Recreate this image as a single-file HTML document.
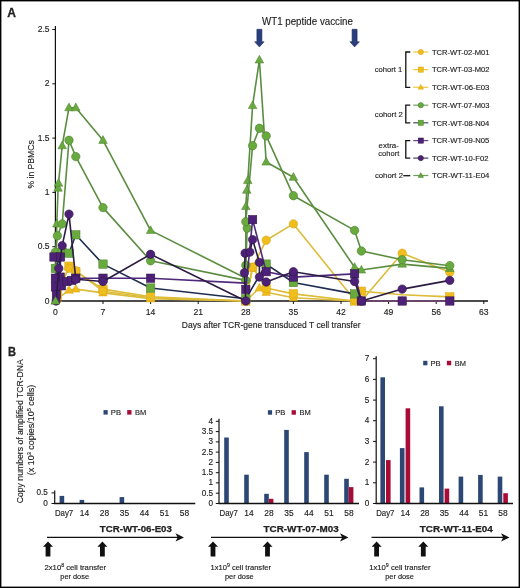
<!DOCTYPE html>
<html><head><meta charset="utf-8"><style>
html,body{margin:0;padding:0;background:#fff;}
body{width:520px;height:588px;overflow:hidden;}
svg{display:block;will-change:transform;}
text{font-family:"Liberation Sans",sans-serif;fill:#222222;stroke:#222222;stroke-width:0.14px;}
</style></head><body>
<svg width="520" height="588" viewBox="0 0 520 588">
<rect x="0" y="0" width="520" height="588" fill="#fff"/>
<text x="7.3" y="17" textLength="8.7" lengthAdjust="spacingAndGlyphs" style="font-size:12.3px;font-weight:bold;stroke-width:0.3px" >A</text>
<text x="262.0" y="25.0" textLength="90.9" lengthAdjust="spacingAndGlyphs" style="font-size:10.8px" >WT1 peptide vaccine</text>
<path d="M256.9,29.3 H261.9 V41.8 H264.1 L259.4,46.9 L254.6,41.8 H256.9 Z" fill="#2b3f7e" stroke="#1f2c5a" stroke-width="0.6"/>
<path d="M352.1,29.3 H357.1 V41.8 H359.4 L354.6,46.9 L349.9,41.8 H352.1 Z" fill="#2b3f7e" stroke="#1f2c5a" stroke-width="0.6"/>
<text x="0" y="0" transform="translate(33.8,164.4) rotate(-90)" text-anchor="middle" textLength="48.2" lengthAdjust="spacingAndGlyphs" style="font-size:9.5px" >% in PBMCs</text>
<text x="181.8" y="327.6" textLength="178.7" lengthAdjust="spacingAndGlyphs" style="font-size:9.4px" >Days after TCR-gene transduced T cell transfer</text>
<line x1="55.4" y1="26" x2="55.4" y2="301.5" stroke="#111" stroke-width="1.2"/>
<line x1="55" y1="301" x2="488" y2="301" stroke="#111" stroke-width="1.3"/>
<line x1="52.3" y1="301.0" x2="55.4" y2="301.0" stroke="#111" stroke-width="1"/>
<text x="49.6" y="303.5" text-anchor="end" style="font-size:8.5px" >0</text>
<line x1="52.3" y1="246.7" x2="55.4" y2="246.7" stroke="#111" stroke-width="1"/>
<text x="49.6" y="249.2" text-anchor="end" style="font-size:8.5px" >0.5</text>
<line x1="52.3" y1="192.4" x2="55.4" y2="192.4" stroke="#111" stroke-width="1"/>
<text x="49.6" y="194.9" text-anchor="end" style="font-size:8.5px" >1</text>
<line x1="52.3" y1="138.1" x2="55.4" y2="138.1" stroke="#111" stroke-width="1"/>
<text x="49.6" y="140.6" text-anchor="end" style="font-size:8.5px" >1.5</text>
<line x1="52.3" y1="83.8" x2="55.4" y2="83.8" stroke="#111" stroke-width="1"/>
<text x="49.6" y="86.3" text-anchor="end" style="font-size:8.5px" >2</text>
<line x1="52.3" y1="29.5" x2="55.4" y2="29.5" stroke="#111" stroke-width="1"/>
<text x="49.6" y="32.0" text-anchor="end" style="font-size:8.5px" >2.5</text>
<line x1="55.4" y1="301" x2="55.4" y2="304" stroke="#111" stroke-width="1"/>
<text x="55.4" y="314.6" text-anchor="middle" style="font-size:8.6px" >0</text>
<line x1="103.0" y1="301" x2="103.0" y2="304" stroke="#111" stroke-width="1"/>
<text x="103.0" y="314.6" text-anchor="middle" style="font-size:8.6px" >7</text>
<line x1="150.6" y1="301" x2="150.6" y2="304" stroke="#111" stroke-width="1"/>
<text x="150.6" y="314.6" text-anchor="middle" style="font-size:8.6px" >14</text>
<line x1="198.2" y1="301" x2="198.2" y2="304" stroke="#111" stroke-width="1"/>
<text x="198.2" y="314.6" text-anchor="middle" style="font-size:8.6px" >21</text>
<line x1="245.8" y1="301" x2="245.8" y2="304" stroke="#111" stroke-width="1"/>
<text x="245.8" y="314.6" text-anchor="middle" style="font-size:8.6px" >28</text>
<line x1="293.4" y1="301" x2="293.4" y2="304" stroke="#111" stroke-width="1"/>
<text x="293.4" y="314.6" text-anchor="middle" style="font-size:8.6px" >35</text>
<line x1="341.0" y1="301" x2="341.0" y2="304" stroke="#111" stroke-width="1"/>
<text x="341.0" y="314.6" text-anchor="middle" style="font-size:8.6px" >42</text>
<line x1="388.6" y1="301" x2="388.6" y2="304" stroke="#111" stroke-width="1"/>
<text x="388.6" y="314.6" text-anchor="middle" style="font-size:8.6px" >49</text>
<line x1="436.2" y1="301" x2="436.2" y2="304" stroke="#111" stroke-width="1"/>
<text x="436.2" y="314.6" text-anchor="middle" style="font-size:8.6px" >56</text>
<line x1="483.8" y1="301" x2="483.8" y2="304" stroke="#111" stroke-width="1"/>
<text x="483.8" y="314.6" text-anchor="middle" style="font-size:8.6px" >63</text>
<polyline points="57.4,298.8 69.0,290.1 75.8,289.1 103.0,292.9 150.6,298.8 245.8,301.0 259.4,288.0 266.2,292.3 293.4,297.7 354.6,301.0 361.4,301.0 402.2,301.0 449.8,301.0" fill="none" stroke="#dcbc38" stroke-width="1.6" stroke-linejoin="round"/>
<path d="M57.4,294.2 L61.7,301.9 L53.1,301.9 Z" fill="#efbd1c" stroke="#d9a514" stroke-width="0.5"/>
<path d="M69.0,285.5 L73.3,293.2 L64.7,293.2 Z" fill="#efbd1c" stroke="#d9a514" stroke-width="0.5"/>
<path d="M75.8,284.4 L80.1,292.1 L71.5,292.1 Z" fill="#efbd1c" stroke="#d9a514" stroke-width="0.5"/>
<path d="M103.0,288.2 L107.3,296.0 L98.7,296.0 Z" fill="#efbd1c" stroke="#d9a514" stroke-width="0.5"/>
<path d="M150.6,294.2 L154.9,301.9 L146.3,301.9 Z" fill="#efbd1c" stroke="#d9a514" stroke-width="0.5"/>
<path d="M245.8,296.4 L250.1,304.1 L241.5,304.1 Z" fill="#efbd1c" stroke="#d9a514" stroke-width="0.5"/>
<path d="M259.4,283.3 L263.7,291.1 L255.1,291.1 Z" fill="#efbd1c" stroke="#d9a514" stroke-width="0.5"/>
<path d="M266.2,287.7 L270.5,295.4 L261.9,295.4 Z" fill="#efbd1c" stroke="#d9a514" stroke-width="0.5"/>
<path d="M293.4,293.1 L297.7,300.8 L289.1,300.8 Z" fill="#efbd1c" stroke="#d9a514" stroke-width="0.5"/>
<path d="M354.6,296.4 L358.9,304.1 L350.3,304.1 Z" fill="#efbd1c" stroke="#d9a514" stroke-width="0.5"/>
<path d="M361.4,296.4 L365.7,304.1 L357.1,304.1 Z" fill="#efbd1c" stroke="#d9a514" stroke-width="0.5"/>
<path d="M402.2,296.4 L406.5,304.1 L397.9,304.1 Z" fill="#efbd1c" stroke="#d9a514" stroke-width="0.5"/>
<path d="M449.8,296.4 L454.1,304.1 L445.5,304.1 Z" fill="#efbd1c" stroke="#d9a514" stroke-width="0.5"/>
<polyline points="57.4,295.6 69.0,266.2 75.8,271.7 103.0,289.1 150.6,296.7 245.8,301.0 252.6,267.3 266.2,288.0 293.4,293.9 354.6,301.0 361.4,291.2 402.2,294.7 449.8,296.9" fill="none" stroke="#dcbc38" stroke-width="1.6" stroke-linejoin="round"/>
<rect x="53.2" y="291.4" width="8.4" height="8.4" fill="#efbd1c" stroke="#d9a514" stroke-width="0.5"/>
<rect x="64.8" y="262.0" width="8.4" height="8.4" fill="#efbd1c" stroke="#d9a514" stroke-width="0.5"/>
<rect x="71.6" y="267.5" width="8.4" height="8.4" fill="#efbd1c" stroke="#d9a514" stroke-width="0.5"/>
<rect x="98.8" y="284.9" width="8.4" height="8.4" fill="#efbd1c" stroke="#d9a514" stroke-width="0.5"/>
<rect x="146.4" y="292.5" width="8.4" height="8.4" fill="#efbd1c" stroke="#d9a514" stroke-width="0.5"/>
<rect x="241.6" y="296.8" width="8.4" height="8.4" fill="#efbd1c" stroke="#d9a514" stroke-width="0.5"/>
<rect x="248.4" y="263.1" width="8.4" height="8.4" fill="#efbd1c" stroke="#d9a514" stroke-width="0.5"/>
<rect x="262.0" y="283.8" width="8.4" height="8.4" fill="#efbd1c" stroke="#d9a514" stroke-width="0.5"/>
<rect x="289.2" y="289.7" width="8.4" height="8.4" fill="#efbd1c" stroke="#d9a514" stroke-width="0.5"/>
<rect x="350.4" y="296.8" width="8.4" height="8.4" fill="#efbd1c" stroke="#d9a514" stroke-width="0.5"/>
<rect x="357.2" y="287.0" width="8.4" height="8.4" fill="#efbd1c" stroke="#d9a514" stroke-width="0.5"/>
<rect x="445.6" y="292.7" width="8.4" height="8.4" fill="#efbd1c" stroke="#d9a514" stroke-width="0.5"/>
<polyline points="57.4,290.1 69.0,268.4 75.8,270.6 103.0,291.2 150.6,297.7 245.8,301.0 252.6,267.3 266.2,240.2 293.4,223.9 354.6,299.9 361.4,301.0 402.2,253.2 449.8,272.2" fill="none" stroke="#dcbc38" stroke-width="1.6" stroke-linejoin="round"/>
<circle cx="57.4" cy="290.1" r="4.20" fill="#efbd1c" stroke="#d9a514" stroke-width="0.6"/>
<circle cx="69.0" cy="268.4" r="4.20" fill="#efbd1c" stroke="#d9a514" stroke-width="0.6"/>
<circle cx="75.8" cy="270.6" r="4.20" fill="#efbd1c" stroke="#d9a514" stroke-width="0.6"/>
<circle cx="103.0" cy="291.2" r="4.20" fill="#efbd1c" stroke="#d9a514" stroke-width="0.6"/>
<circle cx="245.8" cy="301.0" r="4.20" fill="#efbd1c" stroke="#d9a514" stroke-width="0.6"/>
<circle cx="252.6" cy="267.3" r="4.20" fill="#efbd1c" stroke="#d9a514" stroke-width="0.6"/>
<circle cx="266.2" cy="240.2" r="4.20" fill="#efbd1c" stroke="#d9a514" stroke-width="0.6"/>
<circle cx="293.4" cy="223.9" r="4.20" fill="#efbd1c" stroke="#d9a514" stroke-width="0.6"/>
<circle cx="354.6" cy="299.9" r="4.20" fill="#efbd1c" stroke="#d9a514" stroke-width="0.6"/>
<circle cx="361.4" cy="301.0" r="4.20" fill="#efbd1c" stroke="#d9a514" stroke-width="0.6"/>
<circle cx="402.2" cy="253.2" r="4.20" fill="#efbd1c" stroke="#d9a514" stroke-width="0.6"/>
<circle cx="449.8" cy="272.2" r="4.20" fill="#efbd1c" stroke="#d9a514" stroke-width="0.6"/>
<polyline points="55.4,301.0 56.8,223.9 58.1,188.1 58.5,183.2 62.2,145.7 69.0,107.7 75.8,107.7 103.0,140.3 150.6,230.4 245.8,278.2 245.8,206.5 246.8,190.2 247.8,180.5 252.6,105.5 259.4,59.9 266.2,162.0 293.4,177.2 354.6,267.3 361.4,270.0 402.2,264.1 449.8,268.4" fill="none" stroke="#5b8d40" stroke-width="1.6" stroke-linejoin="round"/>
<path d="M55.4,296.4 L59.7,304.1 L51.1,304.1 Z" fill="#68aa3e" stroke="#4a7f2e" stroke-width="0.5"/>
<path d="M56.8,219.2 L61.1,227.0 L52.5,227.0 Z" fill="#68aa3e" stroke="#4a7f2e" stroke-width="0.5"/>
<path d="M58.1,183.4 L62.4,191.2 L53.8,191.2 Z" fill="#68aa3e" stroke="#4a7f2e" stroke-width="0.5"/>
<path d="M58.5,178.5 L62.8,186.3 L54.2,186.3 Z" fill="#68aa3e" stroke="#4a7f2e" stroke-width="0.5"/>
<path d="M62.2,141.1 L66.5,148.8 L57.9,148.8 Z" fill="#68aa3e" stroke="#4a7f2e" stroke-width="0.5"/>
<path d="M69.0,103.0 L73.3,110.8 L64.7,110.8 Z" fill="#68aa3e" stroke="#4a7f2e" stroke-width="0.5"/>
<path d="M75.8,103.0 L80.1,110.8 L71.5,110.8 Z" fill="#68aa3e" stroke="#4a7f2e" stroke-width="0.5"/>
<path d="M103.0,135.6 L107.3,143.4 L98.7,143.4 Z" fill="#68aa3e" stroke="#4a7f2e" stroke-width="0.5"/>
<path d="M150.6,225.8 L154.9,233.5 L146.3,233.5 Z" fill="#68aa3e" stroke="#4a7f2e" stroke-width="0.5"/>
<path d="M245.8,273.6 L250.1,281.3 L241.5,281.3 Z" fill="#68aa3e" stroke="#4a7f2e" stroke-width="0.5"/>
<path d="M245.8,201.9 L250.1,209.6 L241.5,209.6 Z" fill="#68aa3e" stroke="#4a7f2e" stroke-width="0.5"/>
<path d="M246.8,185.6 L251.1,193.3 L242.5,193.3 Z" fill="#68aa3e" stroke="#4a7f2e" stroke-width="0.5"/>
<path d="M247.8,175.8 L252.1,183.6 L243.5,183.6 Z" fill="#68aa3e" stroke="#4a7f2e" stroke-width="0.5"/>
<path d="M252.6,100.9 L256.9,108.6 L248.3,108.6 Z" fill="#68aa3e" stroke="#4a7f2e" stroke-width="0.5"/>
<path d="M259.4,55.3 L263.7,63.0 L255.1,63.0 Z" fill="#68aa3e" stroke="#4a7f2e" stroke-width="0.5"/>
<path d="M266.2,157.3 L270.5,165.1 L261.9,165.1 Z" fill="#68aa3e" stroke="#4a7f2e" stroke-width="0.5"/>
<path d="M293.4,172.6 L297.7,180.3 L289.1,180.3 Z" fill="#68aa3e" stroke="#4a7f2e" stroke-width="0.5"/>
<path d="M354.6,262.7 L358.9,270.4 L350.3,270.4 Z" fill="#68aa3e" stroke="#4a7f2e" stroke-width="0.5"/>
<path d="M361.4,265.4 L365.7,273.1 L357.1,273.1 Z" fill="#68aa3e" stroke="#4a7f2e" stroke-width="0.5"/>
<path d="M402.2,259.4 L406.5,267.2 L397.9,267.2 Z" fill="#68aa3e" stroke="#4a7f2e" stroke-width="0.5"/>
<path d="M449.8,263.8 L454.1,271.5 L445.5,271.5 Z" fill="#68aa3e" stroke="#4a7f2e" stroke-width="0.5"/>
<polyline points="55.4,252.1 57.4,235.8 62.2,223.9 69.0,140.3 75.8,156.6 103.0,207.6 150.6,260.8 245.8,280.4 245.8,265.2 247.2,228.2 245.8,221.7 252.6,145.7 259.4,128.3 266.2,135.9 293.4,195.7 354.6,230.4 361.4,251.0 402.2,259.7 449.8,265.7" fill="none" stroke="#5b8d40" stroke-width="1.6" stroke-linejoin="round"/>
<circle cx="55.4" cy="252.1" r="4.20" fill="#68aa3e" stroke="#4a7f2e" stroke-width="0.6"/>
<circle cx="57.4" cy="235.8" r="4.20" fill="#68aa3e" stroke="#4a7f2e" stroke-width="0.6"/>
<circle cx="62.2" cy="223.9" r="4.20" fill="#68aa3e" stroke="#4a7f2e" stroke-width="0.6"/>
<circle cx="69.0" cy="140.3" r="4.20" fill="#68aa3e" stroke="#4a7f2e" stroke-width="0.6"/>
<circle cx="75.8" cy="156.6" r="4.20" fill="#68aa3e" stroke="#4a7f2e" stroke-width="0.6"/>
<circle cx="103.0" cy="207.6" r="4.20" fill="#68aa3e" stroke="#4a7f2e" stroke-width="0.6"/>
<circle cx="150.6" cy="260.8" r="4.20" fill="#68aa3e" stroke="#4a7f2e" stroke-width="0.6"/>
<circle cx="245.8" cy="280.4" r="4.20" fill="#68aa3e" stroke="#4a7f2e" stroke-width="0.6"/>
<circle cx="245.8" cy="265.2" r="4.20" fill="#68aa3e" stroke="#4a7f2e" stroke-width="0.6"/>
<circle cx="247.2" cy="228.2" r="4.20" fill="#68aa3e" stroke="#4a7f2e" stroke-width="0.6"/>
<circle cx="245.8" cy="221.7" r="4.20" fill="#68aa3e" stroke="#4a7f2e" stroke-width="0.6"/>
<circle cx="252.6" cy="145.7" r="4.20" fill="#68aa3e" stroke="#4a7f2e" stroke-width="0.6"/>
<circle cx="259.4" cy="128.3" r="4.20" fill="#68aa3e" stroke="#4a7f2e" stroke-width="0.6"/>
<circle cx="266.2" cy="135.9" r="4.20" fill="#68aa3e" stroke="#4a7f2e" stroke-width="0.6"/>
<circle cx="293.4" cy="195.7" r="4.20" fill="#68aa3e" stroke="#4a7f2e" stroke-width="0.6"/>
<circle cx="354.6" cy="230.4" r="4.20" fill="#68aa3e" stroke="#4a7f2e" stroke-width="0.6"/>
<circle cx="361.4" cy="251.0" r="4.20" fill="#68aa3e" stroke="#4a7f2e" stroke-width="0.6"/>
<circle cx="402.2" cy="259.7" r="4.20" fill="#68aa3e" stroke="#4a7f2e" stroke-width="0.6"/>
<circle cx="449.8" cy="265.7" r="4.20" fill="#68aa3e" stroke="#4a7f2e" stroke-width="0.6"/>
<polyline points="55.4,268.4 62.2,252.1 69.0,253.2 75.8,234.8 103.0,264.1 150.6,288.0 245.8,298.8 266.2,264.1 293.4,282.5 354.6,293.9" fill="none" stroke="#1e2c50" stroke-width="1.6" stroke-linejoin="round"/>
<rect x="51.2" y="264.2" width="8.4" height="8.4" fill="#68aa3e" stroke="#4a7f2e" stroke-width="0.5"/>
<rect x="58.0" y="247.9" width="8.4" height="8.4" fill="#68aa3e" stroke="#4a7f2e" stroke-width="0.5"/>
<rect x="64.8" y="249.0" width="8.4" height="8.4" fill="#68aa3e" stroke="#4a7f2e" stroke-width="0.5"/>
<rect x="71.6" y="230.6" width="8.4" height="8.4" fill="#68aa3e" stroke="#4a7f2e" stroke-width="0.5"/>
<rect x="98.8" y="259.9" width="8.4" height="8.4" fill="#68aa3e" stroke="#4a7f2e" stroke-width="0.5"/>
<rect x="146.4" y="283.8" width="8.4" height="8.4" fill="#68aa3e" stroke="#4a7f2e" stroke-width="0.5"/>
<rect x="241.6" y="294.6" width="8.4" height="8.4" fill="#68aa3e" stroke="#4a7f2e" stroke-width="0.5"/>
<rect x="262.0" y="259.9" width="8.4" height="8.4" fill="#68aa3e" stroke="#4a7f2e" stroke-width="0.5"/>
<rect x="289.2" y="278.3" width="8.4" height="8.4" fill="#68aa3e" stroke="#4a7f2e" stroke-width="0.5"/>
<rect x="350.4" y="289.7" width="8.4" height="8.4" fill="#68aa3e" stroke="#4a7f2e" stroke-width="0.5"/>
<polyline points="54.0,257.0 60.5,257.0 60.2,277.1 55.4,278.2 55.4,286.9 56.4,294.5 61.5,285.8 67.0,281.5 71.7,280.4 75.8,278.2 103.0,278.2 150.6,278.2 245.8,283.1 245.8,289.4 252.6,219.6 266.2,271.7 293.4,277.1 354.6,273.9 361.4,301.0 402.2,301.0 449.8,301.0" fill="none" stroke="#50297a" stroke-width="1.6" stroke-linejoin="round"/>
<rect x="49.8" y="252.8" width="8.4" height="8.4" fill="#4e2178" stroke="#2e1546" stroke-width="0.5"/>
<rect x="56.3" y="252.8" width="8.4" height="8.4" fill="#4e2178" stroke="#2e1546" stroke-width="0.5"/>
<rect x="56.0" y="272.9" width="8.4" height="8.4" fill="#4e2178" stroke="#2e1546" stroke-width="0.5"/>
<rect x="51.2" y="274.0" width="8.4" height="8.4" fill="#4e2178" stroke="#2e1546" stroke-width="0.5"/>
<rect x="51.2" y="282.7" width="8.4" height="8.4" fill="#4e2178" stroke="#2e1546" stroke-width="0.5"/>
<rect x="52.2" y="290.3" width="8.4" height="8.4" fill="#4e2178" stroke="#2e1546" stroke-width="0.5"/>
<rect x="57.3" y="281.6" width="8.4" height="8.4" fill="#4e2178" stroke="#2e1546" stroke-width="0.5"/>
<rect x="62.8" y="277.3" width="8.4" height="8.4" fill="#4e2178" stroke="#2e1546" stroke-width="0.5"/>
<rect x="67.5" y="276.2" width="8.4" height="8.4" fill="#4e2178" stroke="#2e1546" stroke-width="0.5"/>
<rect x="71.6" y="274.0" width="8.4" height="8.4" fill="#4e2178" stroke="#2e1546" stroke-width="0.5"/>
<rect x="98.8" y="274.0" width="8.4" height="8.4" fill="#4e2178" stroke="#2e1546" stroke-width="0.5"/>
<rect x="146.4" y="274.0" width="8.4" height="8.4" fill="#4e2178" stroke="#2e1546" stroke-width="0.5"/>
<rect x="241.6" y="285.2" width="8.4" height="8.4" fill="#4e2178" stroke="#2e1546" stroke-width="0.5"/>
<rect x="248.4" y="215.4" width="8.4" height="8.4" fill="#4e2178" stroke="#2e1546" stroke-width="0.5"/>
<rect x="262.0" y="267.5" width="8.4" height="8.4" fill="#4e2178" stroke="#2e1546" stroke-width="0.5"/>
<rect x="289.2" y="272.9" width="8.4" height="8.4" fill="#4e2178" stroke="#2e1546" stroke-width="0.5"/>
<rect x="350.4" y="269.7" width="8.4" height="8.4" fill="#4e2178" stroke="#2e1546" stroke-width="0.5"/>
<rect x="357.2" y="296.8" width="8.4" height="8.4" fill="#4e2178" stroke="#2e1546" stroke-width="0.5"/>
<rect x="398.0" y="296.8" width="8.4" height="8.4" fill="#4e2178" stroke="#2e1546" stroke-width="0.5"/>
<rect x="445.6" y="296.8" width="8.4" height="8.4" fill="#4e2178" stroke="#2e1546" stroke-width="0.5"/>
<polyline points="56.1,301.0 58.8,268.4 62.2,245.6 69.0,214.1 75.8,279.3 103.0,281.5 150.6,254.3 245.8,301.0 244.4,272.8 245.1,253.2 249.9,252.1 252.6,239.6 259.4,262.4 259.4,277.1 266.2,282.0 293.4,271.7 354.6,281.5 361.4,301.0 402.2,289.1 449.8,280.4" fill="none" stroke="#2b1b42" stroke-width="1.6" stroke-linejoin="round"/>
<circle cx="56.1" cy="301.0" r="4.20" fill="#4e2178" stroke="#2e1546" stroke-width="0.6"/>
<circle cx="58.8" cy="268.4" r="4.20" fill="#4e2178" stroke="#2e1546" stroke-width="0.6"/>
<circle cx="62.2" cy="245.6" r="4.20" fill="#4e2178" stroke="#2e1546" stroke-width="0.6"/>
<circle cx="69.0" cy="214.1" r="4.20" fill="#4e2178" stroke="#2e1546" stroke-width="0.6"/>
<circle cx="75.8" cy="279.3" r="4.20" fill="#4e2178" stroke="#2e1546" stroke-width="0.6"/>
<circle cx="103.0" cy="281.5" r="4.20" fill="#4e2178" stroke="#2e1546" stroke-width="0.6"/>
<circle cx="150.6" cy="254.3" r="4.20" fill="#4e2178" stroke="#2e1546" stroke-width="0.6"/>
<circle cx="245.8" cy="301.0" r="4.20" fill="#4e2178" stroke="#2e1546" stroke-width="0.6"/>
<circle cx="244.4" cy="272.8" r="4.20" fill="#4e2178" stroke="#2e1546" stroke-width="0.6"/>
<circle cx="245.1" cy="253.2" r="4.20" fill="#4e2178" stroke="#2e1546" stroke-width="0.6"/>
<circle cx="249.9" cy="252.1" r="4.20" fill="#4e2178" stroke="#2e1546" stroke-width="0.6"/>
<circle cx="252.6" cy="239.6" r="4.20" fill="#4e2178" stroke="#2e1546" stroke-width="0.6"/>
<circle cx="259.4" cy="262.4" r="4.20" fill="#4e2178" stroke="#2e1546" stroke-width="0.6"/>
<circle cx="259.4" cy="277.1" r="4.20" fill="#4e2178" stroke="#2e1546" stroke-width="0.6"/>
<circle cx="266.2" cy="282.0" r="4.20" fill="#4e2178" stroke="#2e1546" stroke-width="0.6"/>
<circle cx="293.4" cy="271.7" r="4.20" fill="#4e2178" stroke="#2e1546" stroke-width="0.6"/>
<circle cx="354.6" cy="281.5" r="4.20" fill="#4e2178" stroke="#2e1546" stroke-width="0.6"/>
<circle cx="361.4" cy="301.0" r="4.20" fill="#4e2178" stroke="#2e1546" stroke-width="0.6"/>
<circle cx="402.2" cy="289.1" r="4.20" fill="#4e2178" stroke="#2e1546" stroke-width="0.6"/>
<circle cx="449.8" cy="280.4" r="4.20" fill="#4e2178" stroke="#2e1546" stroke-width="0.6"/>
<path d="M55.4,296.4 L59.7,304.1 L51.1,304.1 Z" fill="#68aa3e" stroke="#4a7f2e" stroke-width="0.5"/>
<line x1="413.3" y1="52" x2="428.3" y2="52" stroke="#efbd1c" stroke-width="1.2" stroke-opacity="0.85"/>
<circle cx="420.8" cy="52.0" r="2.60" fill="#efbd1c" stroke="#d9a514" stroke-width="0.6"/>
<text x="431.9" y="54.9" textLength="57.5" lengthAdjust="spacingAndGlyphs" style="font-size:8.0px" >TCR-WT-02-M01</text>
<line x1="413.3" y1="69.6" x2="428.3" y2="69.6" stroke="#efbd1c" stroke-width="1.2" stroke-opacity="0.85"/>
<rect x="418.2" y="67.0" width="5.2" height="5.2" fill="#efbd1c" stroke="#d9a514" stroke-width="0.5"/>
<text x="431.9" y="72.4" textLength="57.5" lengthAdjust="spacingAndGlyphs" style="font-size:8.0px" >TCR-WT-03-M02</text>
<line x1="413.3" y1="87.3" x2="428.3" y2="87.3" stroke="#efbd1c" stroke-width="1.2" stroke-opacity="0.85"/>
<path d="M420.8,84.4 L423.5,89.2 L418.1,89.2 Z" fill="#efbd1c" stroke="#d9a514" stroke-width="0.5"/>
<text x="431.9" y="90.1" textLength="57.5" lengthAdjust="spacingAndGlyphs" style="font-size:8.0px" >TCR-WT-06-E03</text>
<line x1="413.3" y1="105.2" x2="428.3" y2="105.2" stroke="#5b8d40" stroke-width="1.2" stroke-opacity="0.85"/>
<circle cx="420.8" cy="105.2" r="2.60" fill="#68aa3e" stroke="#4a7f2e" stroke-width="0.6"/>
<text x="431.9" y="108.0" textLength="57.5" lengthAdjust="spacingAndGlyphs" style="font-size:8.0px" >TCR-WT-07-M03</text>
<line x1="413.3" y1="122.8" x2="428.3" y2="122.8" stroke="#1e2c50" stroke-width="1.2" stroke-opacity="0.85"/>
<rect x="418.2" y="120.2" width="5.2" height="5.2" fill="#68aa3e" stroke="#4a7f2e" stroke-width="0.5"/>
<text x="431.9" y="125.6" textLength="57.5" lengthAdjust="spacingAndGlyphs" style="font-size:8.0px" >TCR-WT-08-N04</text>
<line x1="413.3" y1="140.6" x2="428.3" y2="140.6" stroke="#4e2178" stroke-width="1.2" stroke-opacity="0.85"/>
<rect x="418.2" y="138.0" width="5.2" height="5.2" fill="#4e2178" stroke="#2e1546" stroke-width="0.5"/>
<text x="431.9" y="143.4" textLength="57.5" lengthAdjust="spacingAndGlyphs" style="font-size:8.0px" >TCR-WT-09-N05</text>
<line x1="413.3" y1="158.1" x2="428.3" y2="158.1" stroke="#2b1b42" stroke-width="1.2" stroke-opacity="0.85"/>
<circle cx="420.8" cy="158.1" r="2.60" fill="#4e2178" stroke="#2e1546" stroke-width="0.6"/>
<text x="431.9" y="160.9" textLength="56.6" lengthAdjust="spacingAndGlyphs" style="font-size:8.0px" >TCR-WT-10-F02</text>
<line x1="413.3" y1="175.5" x2="428.3" y2="175.5" stroke="#5b8d40" stroke-width="1.2" stroke-opacity="0.85"/>
<path d="M420.8,172.6 L423.5,177.4 L418.1,177.4 Z" fill="#68aa3e" stroke="#4a7f2e" stroke-width="0.5"/>
<text x="431.9" y="178.3" textLength="57.5" lengthAdjust="spacingAndGlyphs" style="font-size:8.0px" >TCR-WT-11-E04</text>
<path d="M410.3,52 H405.8 V87.3 H410.3" fill="none" stroke="#111" stroke-width="1.3"/>
<text x="374.8" y="72.3" textLength="27.5" lengthAdjust="spacingAndGlyphs" style="font-size:8.0px" >cohort 1</text>
<path d="M410.3,105.2 H405.8 V122.8 H410.3" fill="none" stroke="#111" stroke-width="1.3"/>
<text x="374.8" y="116.6" textLength="28.0" lengthAdjust="spacingAndGlyphs" style="font-size:8.0px" >cohort 2</text>
<path d="M410.3,140.6 H405.8 V158.1 H410.3" fill="none" stroke="#111" stroke-width="1.3"/>
<text x="378.6" y="147.8" textLength="20.2" lengthAdjust="spacingAndGlyphs" style="font-size:8.0px" >extra-</text>
<text x="378.3" y="156.3" textLength="21.0" lengthAdjust="spacingAndGlyphs" style="font-size:8.0px" >cohort</text>
<line x1="403.3" y1="175.7" x2="410.3" y2="175.7" stroke="#111" stroke-width="1.3"/>
<text x="374.9" y="177.8" textLength="28.1" lengthAdjust="spacingAndGlyphs" style="font-size:8.0px" >cohort 2</text>
<text x="7.9" y="355.8" textLength="8.0" lengthAdjust="spacingAndGlyphs" style="font-size:12.1px;font-weight:bold;stroke-width:0.3px" >B</text>
<text x="0" y="0" transform="translate(23.3,431.2) rotate(-90)" text-anchor="middle" textLength="144.2" lengthAdjust="spacingAndGlyphs" style="font-size:9.6px" >Copy numbers of amplified TCR-DNA</text>
<text transform="translate(34.4,430) rotate(-90)" text-anchor="middle" textLength="90.5" lengthAdjust="spacingAndGlyphs" style="font-size:9.6px">(x 10<tspan style="font-size:6px" dy="-3.5">3</tspan><tspan dy="3.5"> copies/10</tspan><tspan style="font-size:6px" dy="-3.5">5</tspan><tspan dy="3.5"> cells)</tspan></text>
<rect x="59.6" y="495.9" width="4.6" height="7.6" fill="#2d4775"/>
<rect x="79.6" y="499.9" width="4.6" height="3.6" fill="#2d4775"/>
<rect x="119.6" y="497.1" width="4.6" height="6.4" fill="#2d4775"/>
<line x1="54.7" y1="490.4" x2="54.7" y2="504.0" stroke="#111" stroke-width="1.2"/>
<line x1="54.1" y1="503.5" x2="195.3" y2="503.5" stroke="#111" stroke-width="1.3"/>
<line x1="51.5" y1="503.5" x2="54.7" y2="503.5" stroke="#111" stroke-width="1"/>
<text x="47.9" y="506.0" text-anchor="end" style="font-size:8.2px" >0</text>
<line x1="51.5" y1="492.9" x2="54.7" y2="492.9" stroke="#111" stroke-width="1"/>
<text x="47.9" y="495.4" text-anchor="end" style="font-size:8.2px" >0.5</text>
<text x="54.9" y="515.8" textLength="18.3" lengthAdjust="spacingAndGlyphs" style="font-size:8.4px" >Day7</text>
<text x="84.4" y="515.8" text-anchor="middle" style="font-size:8.4px" >14</text>
<text x="104.4" y="515.8" text-anchor="middle" style="font-size:8.4px" >28</text>
<text x="124.4" y="515.8" text-anchor="middle" style="font-size:8.4px" >35</text>
<text x="144.4" y="515.8" text-anchor="middle" style="font-size:8.4px" >44</text>
<text x="164.4" y="515.8" text-anchor="middle" style="font-size:8.4px" >51</text>
<text x="184.4" y="515.8" text-anchor="middle" style="font-size:8.4px" >58</text>
<rect x="224.2" y="437.5" width="4.6" height="66.0" fill="#2d4775"/>
<rect x="244.2" y="474.7" width="4.6" height="28.8" fill="#2d4775"/>
<rect x="264.2" y="493.8" width="4.6" height="9.7" fill="#2d4775"/>
<rect x="268.8" y="498.8" width="4.6" height="4.7" fill="#a80c36"/>
<rect x="284.2" y="429.9" width="4.6" height="73.6" fill="#2d4775"/>
<rect x="304.2" y="452.1" width="4.6" height="51.4" fill="#2d4775"/>
<rect x="324.2" y="474.7" width="4.6" height="28.8" fill="#2d4775"/>
<rect x="344.2" y="478.8" width="4.6" height="24.7" fill="#2d4775"/>
<rect x="348.8" y="487.1" width="4.6" height="16.4" fill="#a80c36"/>
<line x1="219.0" y1="418.8" x2="219.0" y2="504.0" stroke="#111" stroke-width="1.2"/>
<line x1="218.4" y1="503.5" x2="359" y2="503.5" stroke="#111" stroke-width="1.3"/>
<line x1="215.8" y1="503.5" x2="219.0" y2="503.5" stroke="#111" stroke-width="1"/>
<text x="213.1" y="506.0" text-anchor="end" style="font-size:8.2px" >0</text>
<line x1="215.8" y1="493.2" x2="219.0" y2="493.2" stroke="#111" stroke-width="1"/>
<text x="213.1" y="495.7" text-anchor="end" style="font-size:8.2px" >0.5</text>
<line x1="215.8" y1="482.9" x2="219.0" y2="482.9" stroke="#111" stroke-width="1"/>
<text x="213.1" y="485.4" text-anchor="end" style="font-size:8.2px" >1</text>
<line x1="215.8" y1="472.7" x2="219.0" y2="472.7" stroke="#111" stroke-width="1"/>
<text x="213.1" y="475.2" text-anchor="end" style="font-size:8.2px" >1.5</text>
<line x1="215.8" y1="462.4" x2="219.0" y2="462.4" stroke="#111" stroke-width="1"/>
<text x="213.1" y="464.9" text-anchor="end" style="font-size:8.2px" >2</text>
<line x1="215.8" y1="452.1" x2="219.0" y2="452.1" stroke="#111" stroke-width="1"/>
<text x="213.1" y="454.6" text-anchor="end" style="font-size:8.2px" >2.5</text>
<line x1="215.8" y1="441.9" x2="219.0" y2="441.9" stroke="#111" stroke-width="1"/>
<text x="213.1" y="444.4" text-anchor="end" style="font-size:8.2px" >3</text>
<line x1="215.8" y1="431.6" x2="219.0" y2="431.6" stroke="#111" stroke-width="1"/>
<text x="213.1" y="434.1" text-anchor="end" style="font-size:8.2px" >3.5</text>
<line x1="215.8" y1="421.3" x2="219.0" y2="421.3" stroke="#111" stroke-width="1"/>
<text x="213.1" y="423.8" text-anchor="end" style="font-size:8.2px" >4</text>
<text x="219.5" y="515.8" textLength="18.3" lengthAdjust="spacingAndGlyphs" style="font-size:8.4px" >Day7</text>
<text x="249.0" y="515.8" text-anchor="middle" style="font-size:8.4px" >14</text>
<text x="269.0" y="515.8" text-anchor="middle" style="font-size:8.4px" >28</text>
<text x="289.0" y="515.8" text-anchor="middle" style="font-size:8.4px" >35</text>
<text x="309.0" y="515.8" text-anchor="middle" style="font-size:8.4px" >44</text>
<text x="329.0" y="515.8" text-anchor="middle" style="font-size:8.4px" >51</text>
<text x="349.0" y="515.8" text-anchor="middle" style="font-size:8.4px" >58</text>
<rect x="380.4" y="377.3" width="4.6" height="126.2" fill="#2d4775"/>
<rect x="386.0" y="460.1" width="4.6" height="43.4" fill="#a80c36"/>
<rect x="399.9" y="448.1" width="4.6" height="55.4" fill="#2d4775"/>
<rect x="405.6" y="408.3" width="4.6" height="95.2" fill="#a80c36"/>
<rect x="419.5" y="487.4" width="4.6" height="16.1" fill="#2d4775"/>
<rect x="439.0" y="406.3" width="4.6" height="97.2" fill="#2d4775"/>
<rect x="444.6" y="488.6" width="4.6" height="14.9" fill="#a80c36"/>
<rect x="458.6" y="476.6" width="4.6" height="26.9" fill="#2d4775"/>
<rect x="478.1" y="474.9" width="4.6" height="28.6" fill="#2d4775"/>
<rect x="497.7" y="476.6" width="4.6" height="26.9" fill="#2d4775"/>
<rect x="503.3" y="493.2" width="4.6" height="10.3" fill="#a80c36"/>
<line x1="376.2" y1="356.2" x2="376.2" y2="504.0" stroke="#111" stroke-width="1.2"/>
<line x1="375.59999999999997" y1="503.5" x2="513" y2="503.5" stroke="#111" stroke-width="1.3"/>
<line x1="373.0" y1="503.5" x2="376.2" y2="503.5" stroke="#111" stroke-width="1"/>
<text x="369.4" y="506.0" text-anchor="end" style="font-size:8.2px" >0</text>
<line x1="373.0" y1="482.8" x2="376.2" y2="482.8" stroke="#111" stroke-width="1"/>
<text x="369.4" y="485.3" text-anchor="end" style="font-size:8.2px" >1</text>
<line x1="373.0" y1="462.1" x2="376.2" y2="462.1" stroke="#111" stroke-width="1"/>
<text x="369.4" y="464.6" text-anchor="end" style="font-size:8.2px" >2</text>
<line x1="373.0" y1="441.4" x2="376.2" y2="441.4" stroke="#111" stroke-width="1"/>
<text x="369.4" y="443.9" text-anchor="end" style="font-size:8.2px" >3</text>
<line x1="373.0" y1="420.7" x2="376.2" y2="420.7" stroke="#111" stroke-width="1"/>
<text x="369.4" y="423.2" text-anchor="end" style="font-size:8.2px" >4</text>
<line x1="373.0" y1="400.1" x2="376.2" y2="400.1" stroke="#111" stroke-width="1"/>
<text x="369.4" y="402.6" text-anchor="end" style="font-size:8.2px" >5</text>
<line x1="373.0" y1="379.4" x2="376.2" y2="379.4" stroke="#111" stroke-width="1"/>
<text x="369.4" y="381.9" text-anchor="end" style="font-size:8.2px" >6</text>
<line x1="373.0" y1="358.7" x2="376.2" y2="358.7" stroke="#111" stroke-width="1"/>
<text x="369.4" y="361.2" text-anchor="end" style="font-size:8.2px" >7</text>
<text x="376.2" y="515.8" textLength="18.3" lengthAdjust="spacingAndGlyphs" style="font-size:8.4px" >Day7</text>
<text x="405.2" y="515.8" text-anchor="middle" style="font-size:8.4px" >14</text>
<text x="424.8" y="515.8" text-anchor="middle" style="font-size:8.4px" >28</text>
<text x="444.3" y="515.8" text-anchor="middle" style="font-size:8.4px" >35</text>
<text x="463.9" y="515.8" text-anchor="middle" style="font-size:8.4px" >44</text>
<text x="483.4" y="515.8" text-anchor="middle" style="font-size:8.4px" >51</text>
<text x="503.0" y="515.8" text-anchor="middle" style="font-size:8.4px" >58</text>
<rect x="103.5" y="410.09999999999997" width="4.2" height="4.5" fill="#2d4775"/>
<text x="110.8" y="415.0" textLength="10.2" lengthAdjust="spacingAndGlyphs" style="font-size:7.6px" >PB</text>
<rect x="127.2" y="410.09999999999997" width="4.3" height="4.5" fill="#a80c36"/>
<text x="135.1" y="415.0" textLength="11.2" lengthAdjust="spacingAndGlyphs" style="font-size:7.6px" >BM</text>
<rect x="267.9" y="410.2" width="4.2" height="4.5" fill="#2d4775"/>
<text x="275.2" y="415.1" textLength="10.2" lengthAdjust="spacingAndGlyphs" style="font-size:7.6px" >PB</text>
<rect x="291.59999999999997" y="410.2" width="4.3" height="4.5" fill="#a80c36"/>
<text x="299.5" y="415.1" textLength="11.2" lengthAdjust="spacingAndGlyphs" style="font-size:7.6px" >BM</text>
<rect x="423.2" y="360.8" width="4.2" height="4.5" fill="#2d4775"/>
<text x="430.5" y="365.70000000000005" textLength="10.2" lengthAdjust="spacingAndGlyphs" style="font-size:7.6px" >PB</text>
<rect x="446.9" y="360.8" width="4.3" height="4.5" fill="#a80c36"/>
<text x="454.8" y="365.70000000000005" textLength="11.2" lengthAdjust="spacingAndGlyphs" style="font-size:7.6px" >BM</text>
<text x="99.8" y="532.3" textLength="72.1" lengthAdjust="spacingAndGlyphs" style="font-size:9.7px;font-weight:bold;stroke-width:0.25px" >TCR-WT-06-E03</text>
<line x1="47" y1="537.4" x2="180" y2="537.4" stroke="#111" stroke-width="1.4"/>
<path d="M175.5,533.2 L184,537.4 L175.5,541.6 L177.7,537.4 Z" fill="#111"/>
<path d="M48.0,541.4 L53.0,546.8 H50.4 V556.6 H45.6 V546.8 H43.0 Z" fill="#111"/>
<path d="M102.4,541.4 L107.4,546.8 H104.8 V556.6 H100.0 V546.8 H97.4 Z" fill="#111"/>
<text x="44.5" y="569.8" textLength="61.5" lengthAdjust="spacingAndGlyphs" style="font-size:7.3px">2x10<tspan style="font-size:5px" dy="-3">8</tspan><tspan dy="3"> cell transfer</tspan></text>
<text x="60.3" y="578.5" textLength="28.7" lengthAdjust="spacingAndGlyphs" style="font-size:7.3px" >per dose</text>
<text x="263.5" y="532.3" textLength="75.2" lengthAdjust="spacingAndGlyphs" style="font-size:9.7px;font-weight:bold;stroke-width:0.25px" >TCR-WT-07-M03</text>
<line x1="211" y1="537.4" x2="344.5" y2="537.4" stroke="#111" stroke-width="1.4"/>
<path d="M340.0,533.2 L348.5,537.4 L340.0,541.6 L342.2,537.4 Z" fill="#111"/>
<path d="M213.0,541.4 L218.0,546.8 H215.4 V556.6 H210.6 V546.8 H208.0 Z" fill="#111"/>
<path d="M267.5,541.4 L272.5,546.8 H269.9 V556.6 H265.1 V546.8 H262.5 Z" fill="#111"/>
<text x="210.5" y="569.8" textLength="60.5" lengthAdjust="spacingAndGlyphs" style="font-size:7.3px">1x10<tspan style="font-size:5px" dy="-3">9</tspan><tspan dy="3"> cell transfer</tspan></text>
<text x="225.0" y="578.5" textLength="28.7" lengthAdjust="spacingAndGlyphs" style="font-size:7.3px" >per dose</text>
<text x="419.8" y="532.3" textLength="73.0" lengthAdjust="spacingAndGlyphs" style="font-size:9.7px;font-weight:bold;stroke-width:0.25px" >TCR-WT-11-E04</text>
<line x1="371.5" y1="537.4" x2="505.5" y2="537.4" stroke="#111" stroke-width="1.4"/>
<path d="M501.0,533.2 L509.5,537.4 L501.0,541.6 L503.2,537.4 Z" fill="#111"/>
<path d="M376.6,541.4 L381.6,546.8 H379.0 V556.6 H374.2 V546.8 H371.6 Z" fill="#111"/>
<path d="M423.3,541.4 L428.3,546.8 H425.7 V556.6 H420.9 V546.8 H418.3 Z" fill="#111"/>
<text x="369.2" y="569.8" textLength="61.5" lengthAdjust="spacingAndGlyphs" style="font-size:7.3px">1x10<tspan style="font-size:5px" dy="-3">9</tspan><tspan dy="3"> cell transfer</tspan></text>
<text x="385.2" y="578.5" textLength="28.7" lengthAdjust="spacingAndGlyphs" style="font-size:7.3px" >per dose</text>
<rect x="0.7" y="0.7" width="518.6" height="586.6" fill="none" stroke="#000" stroke-width="1.4"/>
</svg>
</body></html>
